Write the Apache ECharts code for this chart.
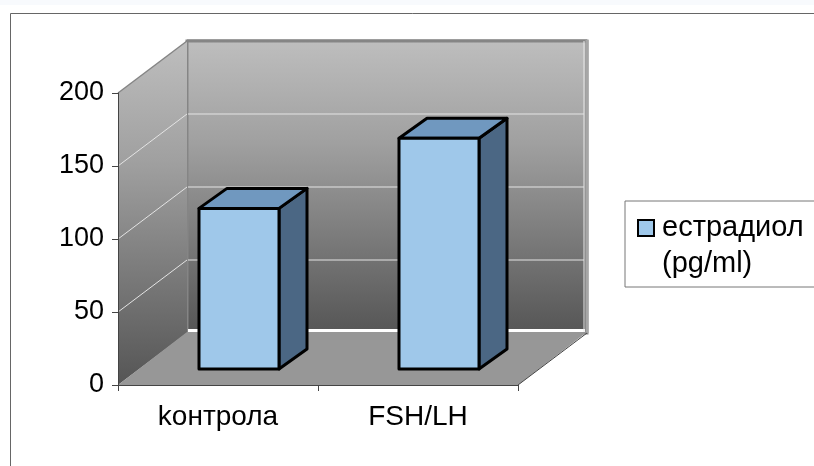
<!DOCTYPE html>
<html>
<head>
<meta charset="utf-8">
<style>
  html, body { margin: 0; padding: 0; background: #fff; }
  #chart { width: 814px; height: 466px; }
</style>
</head>
<body>
<div id="chart"></div>
<script src="https://cdn.jsdelivr.net/npm/echarts@6/dist/echarts.min.js"></script>
<script>
const categories = ['kонтрола', 'FSH/LH'];
const estradiol = [110, 158];
const gridTicks = [50, 100, 150];
const seriesName = 'естрадиол (pg/ml)';

// 3d look: how far the back wall and the bars are shifted, in px
const wallDepth = [69, -52];
const barShift = [21, -16];
const barDepth = [28, -20];

const font = '"Liberation Sans", Arial, sans-serif';
const chart = echarts.init(document.getElementById('chart'));

function poly(points, style, z2) {
  return { type: 'polygon', shape: { points: points }, style: style, z2: z2 || 0 };
}

function add(p, d) {
  return [p[0] + d[0], p[1] + d[1]];
}

// walls and floor, from the plot area of the cartesian
function renderWalls(params, api) {
  const c = params.coordSys;
  const fl = [c.x, c.y + c.height];
  const fr = [c.x + c.width, c.y + c.height];
  const tl = [c.x, c.y];
  const gradient = {
    type: 'linear', x: 0, y: 0, x2: 0, y2: 1,
    colorStops: [
      { offset: 0, color: '#bebebe' },
      { offset: 0.35, color: '#a0a0a0' },
      { offset: 1, color: '#555555' }
    ]
  };
  const bl = add(fl, wallDepth);
  const br = add(fr, wallDepth);
  const btl = add(tl, wallDepth);
  const btr = [br[0], btl[1]];
  return {
    type: 'group',
    children: [
      // outer lighter rim of the back wall
      poly([[btl[0], btl[1] - 2], [btr[0], btr[1] - 2], [br[0], br[1] + 1], [bl[0], bl[1] + 1]], { fill: '#b4b4b4' }),
      poly([btl, btr, br, bl], { fill: gradient, stroke: '#858585', lineWidth: 3 }, 1),
      poly([[bl[0] + 2, bl[1] - 3], [br[0] - 3, br[1] - 3], [br[0] - 3, br[1] - 2], [bl[0] + 2, bl[1] - 2]], { fill: '#fff', stroke: '#fff', lineWidth: 2 }, 2),
      { type: 'line', shape: { x1: br[0] - 3, y1: btr[1], x2: br[0] - 3, y2: br[1] }, style: { stroke: '#e8e8e8', lineWidth: 1 }, z2: 3 },
      { type: 'line', shape: { x1: br[0], y1: btr[1] - 1, x2: br[0], y2: br[1] }, style: { stroke: '#a6a6a6', lineWidth: 3 }, z2: 3 },
      // left wall
      poly([tl, btl, bl, fl], { fill: gradient }, 4),
      { type: 'line', shape: { x1: tl[0], y1: tl[1], x2: btl[0], y2: btl[1] }, style: { stroke: '#858585', lineWidth: 1.5 }, z2: 5 },
      // floor
      poly([fl, add(bl, [0, -1]), add(br, [0, -1]), fr], { fill: '#979797' }, 4),
      { type: 'line', shape: { x1: fr[0], y1: fr[1], x2: br[0], y2: br[1] }, style: { stroke: '#444', lineWidth: 1 }, z2: 5 }
    ]
  };
}

function renderGridLine(params, api) {
  const c = params.coordSys;
  const p = [c.x, api.coord([0, api.value(0)])[1]];
  const b = add(p, wallDepth);
  return {
    type: 'group',
    children: [
      { type: 'line', shape: { x1: p[0], y1: p[1], x2: b[0], y2: b[1] }, style: { stroke: '#e4e4e4', lineWidth: 1 } },
      { type: 'line', shape: { x1: b[0] + 1, y1: b[1], x2: c.x + c.width + wallDepth[0] - 3, y2: b[1] }, style: { stroke: '#e4e4e4', lineWidth: 1 } }
    ]
  };
}

function renderBar(params, api) {
  const w = api.size([1, 0])[0] * 0.4;
  const top = api.coord([api.value(0), api.value(1)]);
  const bottom = api.coord([api.value(0), 0]);
  const tl = add([top[0] - w / 2, top[1]], barShift);
  const tr = add([top[0] + w / 2, top[1]], barShift);
  const bl = add([bottom[0] - w / 2, bottom[1]], barShift);
  const br = add([bottom[0] + w / 2, bottom[1]], barShift);
  const edge = { stroke: '#000', lineWidth: 3, lineJoin: 'round' };
  return {
    type: 'group',
    children: [
      poly([tr, add(tr, barDepth), add(br, barDepth), br], Object.assign({ fill: '#4b6784' }, edge)),
      poly([tl, tr, add(tr, barDepth), add(tl, barDepth)], Object.assign({ fill: '#7098bf' }, edge)),
      poly([tl, tr, br, bl], Object.assign({ fill: '#9fc8ea' }, edge), 1)
    ]
  };
}

const option = {
  animation: false,
  textStyle: { fontFamily: font },
  grid: { left: 118, right: 296, top: 93, bottom: 81 },
  graphic: [
    { type: 'rect', shape: { x: 0, y: 0, width: 814, height: 5 }, style: { fill: '#f8fafd' }, silent: true },
    { type: 'polyline', shape: { points: [[10.5, 466], [10.5, 13.5], [814, 13.5]] }, style: { fill: null, stroke: '#666', lineWidth: 1 }, silent: true }
  ],
  legend: {
    left: 625,
    top: 201,
    orient: 'vertical',
    data: [{ name: seriesName, icon: 'rect', itemStyle: { color: '#9fc8ea', borderColor: '#000', borderWidth: 2 } }],
    itemWidth: 16,
    itemHeight: 16,
    // blank first line so the icon sits next to the first text line
    formatter: () => '\nестрадиол\n(pg/ml)',
    padding: [-27, 60, 5, 12],
    backgroundColor: '#fff',
    borderColor: '#777',
    borderWidth: 1,
    textStyle: { fontFamily: font, fontSize: 29, lineHeight: 36, color: '#000', padding: [0, 0, 0, 3] }
  },
  xAxis: {
    type: 'category',
    data: categories,
    z: 10,
    axisLine: { lineStyle: { color: '#444' } },
    axisTick: { show: true, length: 6, lineStyle: { color: '#444' } },
    axisLabel: { fontFamily: font, fontSize: 28, color: '#000', margin: 18 }
  },
  yAxis: {
    type: 'value',
    min: 0,
    max: 200,
    interval: 50,
    z: 10,
    splitLine: { show: false },
    axisLine: { show: true, lineStyle: { color: '#444' } },
    axisTick: { show: true, length: 6, lineStyle: { color: '#444' } },
    axisLabel: { fontFamily: font, fontSize: 27, color: '#000', margin: 14 }
  },
  series: [
    { type: 'custom', name: 'walls', silent: true, z: 1, data: [[0]], renderItem: renderWalls },
    { type: 'custom', name: 'grid', silent: true, z: 2, data: gridTicks.map(v => [v]), renderItem: renderGridLine },
    {
      type: 'custom',
      name: seriesName,
      z: 3,
      data: estradiol.map((v, i) => [i, v]),
      encode: { x: 0, y: 1 },
      itemStyle: { color: '#9fc8ea' },
      renderItem: renderBar
    }
  ]
};

chart.setOption(option);
</script>
</body>
</html>
